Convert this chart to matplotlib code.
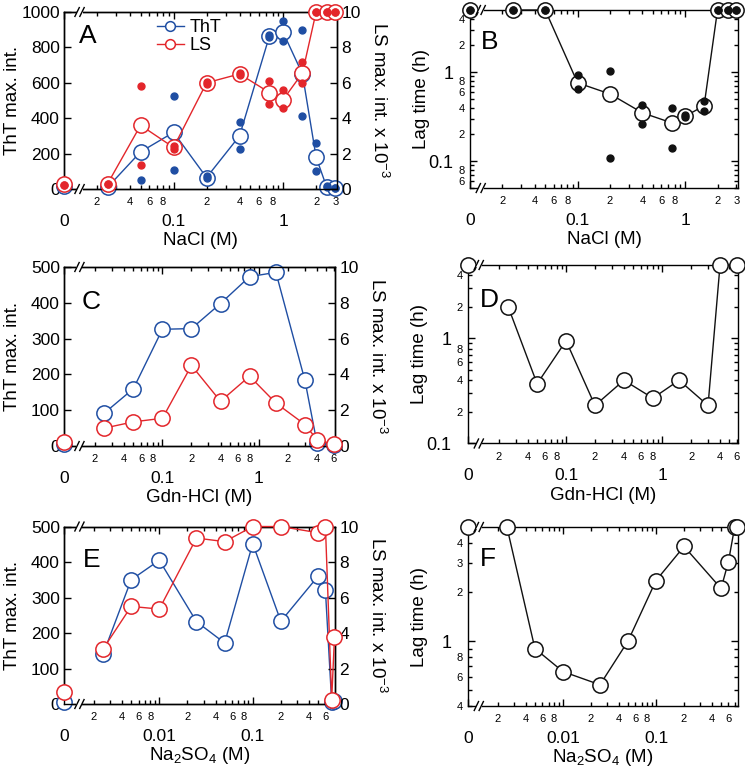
import numpy as np
import matplotlib
matplotlib.use("Agg")
import matplotlib.pyplot as plt
from matplotlib.ticker import FixedLocator, FuncFormatter
from matplotlib.lines import Line2D
from matplotlib.patches import Rectangle

plt.rcParams.update({"font.family": ["Liberation Sans", "DejaVu Sans"], "font.size": 12,
                     "mathtext.fontset": "custom", "mathtext.rm": "Liberation Sans",
                     "mathtext.default": "regular", "axes.linewidth": 1.0})
BLUE, RED, BLACK = "#1f4ea3", "#e3262b", "#111111"
ND = 5.0  # no aggregation during the run -> drawn on the top of the lag-time axis

# NaCl
nacl = [0, 0.025, 0.05, 0.1, 0.2, 0.4, 0.75, 1.0, 1.5, 2.0, 2.5, 3.0]
nacl_tht = [15, 10, 210, 320, 65, 300, 865, 885, 650, 180, 10, 5]
nacl_tht_r1 = [15, 10, 370, 525, 75, 380, 870, 950, 900, 260, 15, 5]
nacl_tht_r2 = [15, 10, 50, 110, 60, 225, 860, 835, 410, 100, 10, 5]
nacl_ls = [0.3, 0.3, 3.6, 2.35, 6.0, 6.5, 5.45, 5.05, 6.55, 10, 10, 10]
nacl_ls_r1 = [0.25, 0.3, 5.8, 2.45, 6.05, 6.55, 6.1, 5.6, 7.2, 10, 10, 10]
nacl_ls_r2 = [0.25, 0.3, 1.35, 2.25, 5.95, 6.45, 4.8, 4.55, 6.0, 10, 10, 10]
nacl_lag = [ND, ND, ND, 0.76, 0.57, 0.35, 0.27, 0.32, 0.42, ND, ND, ND]
nacl_lag_r1 = [ND, ND, ND, 0.92, 1.02, 0.43, 0.40, 0.33, 0.47, ND, ND, ND]
nacl_lag_r2 = [ND, ND, ND, 0.65, 0.11, 0.26, 0.14, 0.31, 0.37, ND, ND, ND]

# Gdn-HCl
gdn = [0, 0.025, 0.05, 0.1, 0.2, 0.4, 0.8, 1.5, 3.0, 4.0, 6.0]
gdn_tht = [5, 92, 160, 326, 328, 398, 473, 485, 183, 8, 3]
gdn_ls = [0.25, 1.0, 1.35, 1.55, 4.5, 2.5, 3.9, 2.4, 1.2, 0.35, 0.1]
gdn_lag = [ND, 2.0, 0.37, 0.95, 0.23, 0.4, 0.27, 0.4, 0.23, ND, ND]

# Na2SO4
na2so4 = [0, 0.0025, 0.005, 0.01, 0.025, 0.05, 0.1, 0.2, 0.5, 0.6, 0.7, 0.75]
na2so4_tht = [5, 140, 350, 405, 232, 172, 452, 233, 360, 320, 5, 8]
na2so4_ls = [0.7, 3.1, 5.5, 5.35, 9.35, 9.15, 10, 10, 9.65, 10, 0.25, 3.8]
na2so4_lag = [ND, ND, 0.9, 0.65, 0.54, 1.0, 2.35, 3.8, 2.1, 3.07, ND, ND]


def zero_log(z):
    # log axis with the x = 0 point put on the left edge (broken axis)
    def fwd(x):
        x = np.asarray(x, dtype=float)
        return np.where(x > 0, np.log10(np.where(x > 0, x, 1.0)), z)
    def inv(u):
        return 10.0 ** np.asarray(u, dtype=float)
    return fwd, inv


def digit_fmt(keep, extra=()):
    def f(v, p):
        if v <= 0:
            return ""
        d = int(round(v / 10 ** np.floor(np.log10(v) + 1e-9)))
        if d in keep or any(abs(v - e) < 1e-9 for e in extra):
            return str(d)
        return ""
    return FuncFormatter(f)


def minor_list(lo, hi):
    return [m * 10.0 ** e for e in range(-4, 2) for m in range(2, 10)
            if lo * 0.999 <= m * 10.0 ** e <= hi * 1.001]


def setup_x(ax, z, xmax, decades, extra):
    ax.set_xscale("function", functions=zero_log(z))
    ax.set_xlim(10 ** z, xmax)
    ax.xaxis.set_major_locator(FixedLocator([0] + decades))
    ax.xaxis.set_major_formatter(FuncFormatter(lambda v, p: "0" if v <= 0 else f"{v:g}"))
    ax.xaxis.set_minor_locator(FixedLocator(minor_list(10 ** z * 1.3, xmax)))
    ax.xaxis.set_minor_formatter(digit_fmt((2, 4, 6, 8), extra))
    ax.tick_params(axis="x", which="both", direction="in", top=True, width=1)
    ax.tick_params(axis="x", which="major", length=5, labelsize=12.5, pad=18)
    ax.tick_params(axis="x", which="minor", length=3, labelsize=8, pad=6)


def brk(ax, xf):
    for yf in (0, 1):
        ax.add_patch(Rectangle((xf - 0.011, yf - 0.012), 0.022, 0.024, transform=ax.transAxes,
                               color="white", lw=0, clip_on=False, zorder=6))
        for dx in (-0.009, 0.009):
            ax.add_line(Line2D([xf + dx - 0.008, xf + dx + 0.008], [yf - 0.025, yf + 0.025],
                               transform=ax.transAxes, color="k", lw=1, clip_on=False, zorder=7))


def left_panel(rect, x, tht, ls, ymax, z, xmax, decades, extra, letter, xlabel, lpos, reps=None):
    ax = fig.add_axes(rect)
    setup_x(ax, z, xmax, decades, extra)
    ax.set_ylim(0, ymax)
    ax.set_yticks(np.arange(0, ymax + 1, ymax / 5))
    ax.tick_params(axis="y", direction="in", length=5, width=1, labelsize=12.5, pad=3)
    ax2 = ax.twinx()
    ax2.set_ylim(0, 10)
    ax2.set_yticks(range(0, 11, 2))
    ax2.tick_params(axis="y", direction="in", length=5, width=1, labelsize=12.5, pad=3)
    x = np.asarray(x, float)
    big = dict(marker="o", ms=11, mfc="white", mew=1.1, lw=1.0, clip_on=False)
    ax.plot(x[1:], tht[1:], color=BLUE, zorder=3, **big)
    ax.plot(x[:1], tht[:1], color=BLUE, zorder=3, **big)
    ax2.plot(x[1:], ls[1:], color=RED, zorder=3, **big)
    ax2.plot(x[:1], ls[:1], color=RED, zorder=3, **big)
    if reps:
        for r in reps[0]:
            ax.plot(x, r, "o", color=BLUE, ms=5, clip_on=False, zorder=4)
        for r in reps[1]:
            ax2.plot(x, r, "o", color=RED, ms=5, clip_on=False, zorder=4)
    ax.set_ylabel("ThT max. int.", fontsize=13.5, va="center")
    ax.yaxis.set_label_coords(-0.19, 0.5)
    ax2.set_ylabel("LS max. int. x 10$^{-3}$", fontsize=13.5, rotation=270, va="center")
    ax2.yaxis.set_label_coords(1.155, 0.5)
    ax.set_xlabel(xlabel, fontsize=13.5, va="center")
    ax.xaxis.set_label_coords(0.5, -0.29)
    ax2.text(lpos[0], lpos[1], letter, transform=ax2.transAxes, fontsize=19, va="top", ha="left")
    brk(ax2, 0.057)
    return ax, ax2


def right_panel(rect, x, lag, ylo, z, xmax, decades, extra, ykeep, letter, xlabel, lpos, reps=None):
    ax = fig.add_axes(rect)
    setup_x(ax, z, xmax, decades, extra)
    ax.set_yscale("log")
    ax.set_ylim(ylo, ND)
    ax.yaxis.set_major_locator(FixedLocator([0.1, 1]))
    ax.yaxis.set_major_formatter(FuncFormatter(lambda v, p: f"{v:g}"))
    ax.yaxis.set_minor_locator(FixedLocator(minor_list(ylo, ND)))
    ax.yaxis.set_minor_formatter(digit_fmt(ykeep))
    ax.tick_params(axis="y", which="both", direction="in", left=True, right=True, width=1)
    ax.tick_params(axis="y", which="major", length=5, labelsize=13, pad=12)
    ax.tick_params(axis="y", which="minor", length=3, labelsize=8, pad=4)
    x = np.asarray(x, float)
    big = dict(marker="o", ms=11, mfc="white", mew=1.1, lw=1.0, clip_on=False)
    ax.plot(x[1:], lag[1:], color=BLACK, zorder=3, **big)
    ax.plot(x[:1], lag[:1], color=BLACK, zorder=3, **big)
    if reps:
        for r in reps:
            ax.plot(x, r, "o", color=BLACK, ms=5, clip_on=False, zorder=4)
    ax.set_ylabel("Lag time (h)", fontsize=13.5, va="center")
    ax.yaxis.set_label_coords(-0.18, 0.5)
    ax.set_xlabel(xlabel, fontsize=13.5, va="center")
    ax.xaxis.set_label_coords(0.5, -0.29)
    ax.text(lpos[0], lpos[1], letter, transform=ax.transAxes, fontsize=19, va="top", ha="left")
    brk(ax, 0.04)
    return ax


fig = plt.figure(figsize=(7.45, 7.69), dpi=100)

axA, axA2 = left_panel([0.0859, 0.7542, 0.3664, 0.2302], nacl, nacl_tht, nacl_ls, 1000, -2.0, 3.1,
                       [0.1, 1], (3.0,), "A", "NaCl (M)", (0.055, 0.93),
                       reps=([nacl_tht_r1, nacl_tht_r2], [nacl_ls_r1, nacl_ls_r2]))
handles = [Line2D([], [], color=BLUE, marker="o", ms=7, mfc="white", mew=1.1, lw=1.0),
           Line2D([], [], color=RED, marker="o", ms=7, mfc="white", mew=1.1, lw=1.0)]
axA2.legend(handles, ["ThT", "LS"], loc="upper left", bbox_to_anchor=(0.34, 0.96), frameon=False,
            fontsize=13, handlelength=1.5, handletextpad=0.3, labelspacing=0.05, borderpad=0,
            borderaxespad=0)

right_panel([0.6309, 0.7555, 0.3597, 0.2315], nacl, nacl_lag, 0.05, -2.0, 3.1, [0.1, 1],
            (3.0,), (2, 4, 6, 8), "B", "NaCl (M)", (0.04, 0.89),
            reps=[nacl_lag_r1, nacl_lag_r2])

left_panel([0.0859, 0.4200, 0.3638, 0.2328], gdn, gdn_tht, gdn_ls, 500, -2.02, 6.15, [0.1, 1],
           (), "C", "Gdn-HCl (M)", (0.065, 0.87))
right_panel([0.6282, 0.4233, 0.3624, 0.2321], gdn, gdn_lag, 0.1, -2.02, 6.15, [0.1, 1],
            (), (2, 4, 6, 8), "D", "Gdn-HCl (M)", (0.045, 0.87))

left_panel([0.0859, 0.0845, 0.3638, 0.2308], na2so4, na2so4_tht, na2so4_ls, 500, -3.02, 0.76,
           [0.01, 0.1], (), "E", "Na$_2$SO$_4$ (M)", (0.07, 0.88))
right_panel([0.6282, 0.0819, 0.3624, 0.2328], na2so4, na2so4_lag, 0.4, -3.02, 0.76, [0.01, 0.1],
            (), (2, 3, 4, 6, 8), "F", "Na$_2$SO$_4$ (M)", (0.045, 0.89))

fig.savefig("out.png", dpi=100)
